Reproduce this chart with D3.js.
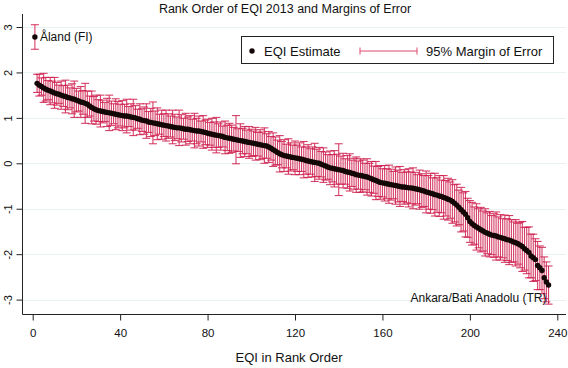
<!DOCTYPE html>
<html>
<head>
<meta charset="utf-8">
<script src="https://cdn.jsdelivr.net/npm/d3@7"></script>
<style>
  body { margin: 0; background: #fff; }
  svg { font-family: "Liberation Sans", Arial, sans-serif; }
</style>
</head>
<body>
<div id="chart"></div>
<script>
// EQI 2013 estimates, already sorted by rank (rank = index + 1)
const eqi = [
  2.78, 1.76, 1.72, 1.69, 1.66, 1.63, 1.61, 1.59, 1.57, 1.55,
  1.53, 1.52, 1.50, 1.48, 1.47, 1.45, 1.44, 1.42, 1.41, 1.39,
  1.37, 1.35, 1.34, 1.32, 1.30, 1.26, 1.23, 1.20, 1.18, 1.16,
  1.15, 1.14, 1.13, 1.12, 1.11, 1.10, 1.09, 1.08, 1.07, 1.06,
  1.05, 1.04, 1.04, 1.03, 1.02, 1.01, 1.00, 0.98, 0.97, 0.95,
  0.94, 0.93, 0.91, 0.90, 0.89, 0.88, 0.87, 0.86, 0.85, 0.84,
  0.83, 0.82, 0.81, 0.80, 0.79, 0.78, 0.78, 0.77, 0.76, 0.75,
  0.75, 0.74, 0.73, 0.72, 0.71, 0.71, 0.70, 0.69, 0.68, 0.66,
  0.65, 0.64, 0.63, 0.62, 0.61, 0.60, 0.59, 0.57, 0.56, 0.55,
  0.54, 0.53, 0.52, 0.51, 0.50, 0.49, 0.48, 0.47, 0.46, 0.45,
  0.44, 0.43, 0.42, 0.41, 0.40, 0.39, 0.38, 0.36, 0.33, 0.30,
  0.27, 0.24, 0.21, 0.19, 0.17, 0.16, 0.15, 0.14, 0.13, 0.12,
  0.11, 0.10, 0.09, 0.08, 0.06, 0.05, 0.04, 0.03, 0.02, 0.01,
  0.00, -0.02, -0.04, -0.06, -0.08, -0.10, -0.11, -0.12, -0.13, -0.14,
  -0.15, -0.16, -0.18, -0.19, -0.20, -0.22, -0.23, -0.25, -0.26, -0.27,
  -0.28, -0.29, -0.30, -0.32, -0.34, -0.36, -0.38, -0.40, -0.42, -0.43,
  -0.44, -0.45, -0.46, -0.47, -0.48, -0.49, -0.50, -0.51, -0.52, -0.52,
  -0.53, -0.54, -0.54, -0.55, -0.56, -0.57, -0.58, -0.60, -0.61, -0.63,
  -0.64, -0.66, -0.67, -0.69, -0.70, -0.72, -0.73, -0.75, -0.77, -0.79,
  -0.81, -0.84, -0.88, -0.92, -0.97, -1.02, -1.07, -1.12, -1.20, -1.28,
  -1.33, -1.37, -1.40, -1.43, -1.46, -1.49, -1.52, -1.54, -1.56, -1.58,
  -1.59, -1.60, -1.62, -1.63, -1.65, -1.66, -1.68, -1.69, -1.71, -1.73,
  -1.75, -1.77, -1.80, -1.83, -1.88, -1.92, -1.96, -2.04, -2.08, -2.12,
  -2.25, -2.30, -2.36, -2.52, -2.61, -2.68
];

// half width of the 95% margin of error
const moe = [
  0.27, 0.20, 0.24, 0.19, 0.32, 0.26, 0.21, 0.30, 0.24, 0.34,
  0.25, 0.20, 0.31, 0.23, 0.36, 0.27, 0.22, 0.33, 0.40, 0.26,
  0.22, 0.34, 0.26, 0.44, 0.29, 0.22, 0.36, 0.27, 0.32, 0.24,
  0.35, 0.25, 0.21, 0.31, 0.39, 0.27, 0.22, 0.34, 0.29, 0.24,
  0.33, 0.26, 0.37, 0.22, 0.29, 0.40, 0.27, 0.21, 0.34, 0.25,
  0.30, 0.38, 0.23, 0.31, 0.46, 0.27, 0.35, 0.22, 0.32, 0.25,
  0.34, 0.27, 0.23, 0.37, 0.29, 0.24, 0.39, 0.30, 0.23, 0.35,
  0.27, 0.31, 0.24, 0.38, 0.28, 0.33, 0.23, 0.36, 0.27, 0.31,
  0.25, 0.35, 0.28, 0.39, 0.26, 0.31, 0.23, 0.36, 0.28, 0.33,
  0.30, 0.26, 0.53, 0.25, 0.37, 0.28, 0.33, 0.26, 0.35, 0.30,
  0.27, 0.36, 0.26, 0.33, 0.29, 0.39, 0.27, 0.34, 0.26, 0.37,
  0.31, 0.27, 0.40, 0.29, 0.35, 0.26, 0.39, 0.31, 0.27, 0.37,
  0.29, 0.35, 0.27, 0.40, 0.30, 0.36, 0.28, 0.33, 0.42, 0.30,
  0.35, 0.28, 0.38, 0.31, 0.27, 0.37, 0.30, 0.40, 0.33, 0.57,
  0.31, 0.38, 0.28, 0.36, 0.41, 0.29, 0.34, 0.39, 0.31, 0.37,
  0.35, 0.29, 0.40, 0.32, 0.38, 0.30, 0.42, 0.33, 0.37, 0.31,
  0.39, 0.33, 0.42, 0.34, 0.30, 0.41, 0.35, 0.44, 0.32, 0.38,
  0.34, 0.42, 0.35, 0.45, 0.36, 0.32, 0.43, 0.37, 0.34, 0.46,
  0.37, 0.44, 0.35, 0.47, 0.38, 0.45, 0.36, 0.48, 0.39, 0.46,
  0.40, 0.48, 0.41, 0.46, 0.38, 0.49, 0.42, 0.50, 0.43, 0.46,
  0.47, 0.41, 0.51, 0.43, 0.49, 0.44, 0.52, 0.45, 0.50, 0.43,
  0.48, 0.53, 0.44, 0.50, 0.43, 0.52, 0.46, 0.54, 0.47, 0.44,
  0.51, 0.45, 0.50, 0.55, 0.47, 0.51, 0.56, 0.48, 0.52, 0.46,
  0.53, 0.48, 0.51, 0.46, 0.44, 0.42
];

const xTicks = [0, 40, 80, 120, 160, 200, 240];
const yTicks = [-3, -2, -1, 0, 1, 2, 3];
const pointLabels = [
  { rank: 1, text: "Åland (FI)" },
  { rank: 236, text: "Ankara/Bati Anadolu (TR)" }
];

const data = eqi.map((v, i) => ({ rank: i + 1, eqi: v, lo: v - moe[i], hi: v + moe[i] }));

const width = 568, height = 368;
const barColor = "#cf1f4e";
const dotColor = "#140707";
const gridColor = "#e9f1f2";

const svg = d3.select("#chart").append("svg")
  .attr("width", width)
  .attr("height", height);

// plot region edges
const plotLeft = 22.5, plotBottom = 314.5, plotTop = 14, plotRight = 566;

const x = d3.scaleLinear().domain([0, 240]).range([32.7, 557.3]);
const y = d3.scaleLinear().domain([-3, 3]).range([299.6, 27]);

// gridlines
svg.append("g").selectAll("line")
  .data(yTicks)
  .join("line")
  .attr("x1", plotLeft).attr("x2", plotRight)
  .attr("y1", d => Math.round(y(d)) + 0.5).attr("y2", d => Math.round(y(d)) + 0.5)
  .attr("stroke", gridColor)
  .attr("stroke-width", 1.2);

// y axis (plain hyphen for negatives, like the original)
const yAxis = svg.append("g")
  .attr("transform", `translate(${plotLeft},0)`)
  .call(d3.axisLeft(y).tickValues(yTicks).tickSize(6).tickFormat(d => String(d)));
yAxis.select(".domain").remove();
yAxis.selectAll(".tick line").attr("stroke", "#222");
yAxis.selectAll(".tick text")
  .attr("x", 0).attr("dy", 0)
  .attr("transform", "translate(-11,0) rotate(-90)")
  .attr("text-anchor", "middle")
  .style("font-size", "11px")
  .attr("fill", "#111");

// x axis
const xAxis = svg.append("g")
  .attr("transform", `translate(0,${plotBottom})`)
  .call(d3.axisBottom(x).tickValues(xTicks).tickSize(6).tickPadding(8));
xAxis.select(".domain").remove();
xAxis.selectAll(".tick line").attr("stroke", "#222");
xAxis.selectAll(".tick text").style("font-size", "11.5px").attr("fill", "#111");

// axis lines
svg.append("line")
  .attr("x1", plotLeft).attr("x2", plotLeft).attr("y1", plotTop).attr("y2", plotBottom)
  .attr("stroke", "#222");
svg.append("line")
  .attr("x1", plotLeft).attr("x2", plotRight).attr("y1", plotBottom).attr("y2", plotBottom)
  .attr("stroke", "#222");

// error bars
const bars = svg.append("g")
  .attr("stroke", barColor)
  .attr("stroke-width", 1.1)
  .attr("stroke-opacity", 0.85);
bars.selectAll("line.stem")
  .data(data)
  .join("line")
  .attr("class", "stem")
  .attr("x1", d => x(d.rank)).attr("x2", d => x(d.rank))
  .attr("y1", d => y(d.hi)).attr("y2", d => y(d.lo));
bars.selectAll("line.caphi")
  .data(data)
  .join("line")
  .attr("class", "caphi")
  .attr("x1", d => x(d.rank) - 4).attr("x2", d => x(d.rank) + 4)
  .attr("y1", d => y(d.hi)).attr("y2", d => y(d.hi));
bars.selectAll("line.caplo")
  .data(data)
  .join("line")
  .attr("class", "caplo")
  .attr("x1", d => x(d.rank) - 4).attr("x2", d => x(d.rank) + 4)
  .attr("y1", d => y(d.lo)).attr("y2", d => y(d.lo));

// estimates
svg.append("g").selectAll("circle")
  .data(data)
  .join("circle")
  .attr("cx", d => x(d.rank))
  .attr("cy", d => y(d.eqi))
  .attr("r", 2.7)
  .attr("fill", dotColor);

// region labels
pointLabels.forEach(p => {
  const d = data[p.rank - 1];
  const first = p.rank === 1;
  svg.append("text")
    .attr("x", first ? x(d.rank) + 5 : x(d.rank) - 2)
    .attr("y", first ? y(d.eqi) + 4 : y(-3) + 2.5)
    .attr("text-anchor", first ? "start" : "end")
    .style("font-size", "12px")
    .attr("fill", "#111")
    .text(p.text);
});

// legend
const lg = svg.append("g");
lg.append("rect")
  .attr("x", 241.5).attr("y", 36.5).attr("width", 312).attr("height", 27)
  .attr("fill", "#fff").attr("stroke", "#222");
lg.append("circle").attr("cx", 252).attr("cy", 51).attr("r", 2.7).attr("fill", dotColor);
lg.append("text").attr("x", 264).attr("y", 55.5).style("font-size", "13px").attr("fill", "#111")
  .text("EQI Estimate");
lg.append("line").attr("x1", 360).attr("x2", 417).attr("y1", 51).attr("y2", 51)
  .attr("stroke", "#dd4a6e").attr("stroke-width", 1);
lg.append("line").attr("x1", 360).attr("x2", 360).attr("y1", 47.5).attr("y2", 54.5)
  .attr("stroke", "#dd4a6e");
lg.append("line").attr("x1", 417).attr("x2", 417).attr("y1", 47.5).attr("y2", 54.5)
  .attr("stroke", "#dd4a6e");
lg.append("text").attr("x", 426).attr("y", 55.5).style("font-size", "13px").attr("fill", "#111")
  .text("95% Margin of Error");

// titles
svg.append("text")
  .attr("x", 285).attr("y", 13)
  .attr("text-anchor", "middle")
  .style("font-size", "12.5px")
  .attr("fill", "#111")
  .text("Rank Order of EQI 2013 and Margins of Error");

svg.append("text")
  .attr("x", 289).attr("y", 362)
  .attr("text-anchor", "middle")
  .style("font-size", "13px")
  .attr("fill", "#111")
  .text("EQI in Rank Order");
</script>
</body>
</html>
